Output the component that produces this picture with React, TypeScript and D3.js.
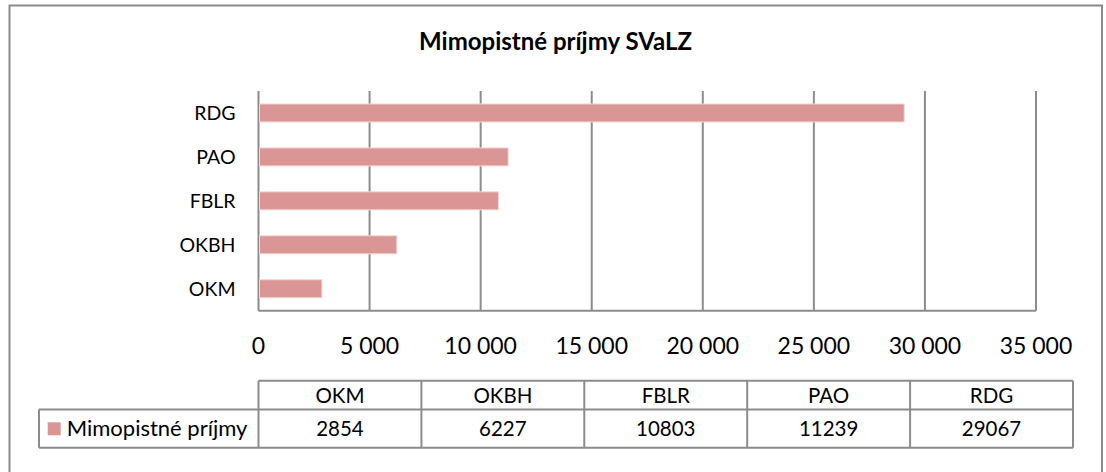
import React from "react";
import * as d3 from "d3";

const title = "Mimopistné príjmy SVaLZ";
const seriesName = "Mimopistné príjmy";
const categories = ["OKM", "OKBH", "FBLR", "PAO", "RDG"];
const values = [2854, 6227, 10803, 11239, 29067];
const ticks = [0, 5000, 10000, 15000, 20000, 25000, 30000, 35000];

const W = 1106;
const H = 472;
const FONT = "Lato, 'Open Sans', sans-serif";
const GRID = "#8c8c8c";
const BAR = "#d99694";

const locale = d3.formatLocale({ decimal: ",", thousands: " ", grouping: [3], currency: ["", ""] });
const fmt = locale.format(",d");

export default function App() {
  const x = d3.scaleLinear().domain([0, 35000]).range([258.5, 1036]);
  const y = d3
    .scaleBand<string>()
    .domain([...categories].reverse())
    .range([91, 310.7])
    .paddingInner(0.59)
    .paddingOuter(0.295);
  const col = d3.scaleBand<string>().domain(categories).range([258.5, 1073]);
  const tTop = 380.7;
  const tMid = 409.5;
  const tBot = 447.7;
  const legLeft = 39;

  return (
    <svg
      width={W}
      height={H}
      style={{ position: "absolute", left: 0, top: 0, background: "#fff" }}
      fontFamily={FONT}
    >
      <rect x={9.5} y={5.5} width={1092.5} height={490} fill="#fff" stroke="#8c8c8c" strokeWidth={2} />
      <text x={555.5} y={50} textAnchor="middle" fontSize={24} fontWeight="bold" fill="#000">
        {title}
      </text>
      {/* gridlines */}
      {ticks.map((t) => (
        <line key={t} x1={x(t)} x2={x(t)} y1={91} y2={310.7} stroke={GRID} strokeWidth={2} />
      ))}
      <line x1={x(0)} x2={x(35000)} y1={310.7} y2={310.7} stroke={GRID} strokeWidth={2} />
      {/* bars */}
      {categories.map((c, i) => (
        <rect
          key={c}
          x={x(0) + 1}
          y={y(c)!}
          width={x(values[i]) - x(0) - 1}
          height={y.bandwidth()}
          fill={BAR}
          stroke="#f0d8d7"
          strokeWidth={1}
        />
      ))}
      {/* category labels */}
      {categories.map((c) => (
        <text
          key={c}
          x={235.5}
          y={y(c)! + y.bandwidth() / 2}
          dy="0.36em"
          textAnchor="end"
          fontSize={19.5}
          fill="#000"
        >
          {c}
        </text>
      ))}
      {/* tick labels */}
      {ticks.map((t) => (
        <text key={t} x={x(t)} y={354} textAnchor="middle" fontSize={23} fill="#000">
          {fmt(t)}
        </text>
      ))}
      {/* data table */}
      <g stroke={GRID} strokeWidth={2} fill="none">
        <line x1={x(0)} x2={1073} y1={tTop} y2={tTop} />
        <line x1={legLeft} x2={1073} y1={tMid} y2={tMid} />
        <line x1={legLeft} x2={1073} y1={tBot} y2={tBot} />
        <line x1={legLeft} x2={legLeft} y1={tMid} y2={tBot} />
        <line x1={x(0)} x2={x(0)} y1={tTop} y2={tBot} />
        {categories.map((c) => (
          <line key={c} x1={col(c)! + col.bandwidth()} x2={col(c)! + col.bandwidth()} y1={tTop} y2={tBot} />
        ))}
      </g>
      {categories.map((c, i) => (
        <g key={c}>
          <text x={col(c)! + col.bandwidth() / 2} y={402.7} textAnchor="middle" fontSize={20.5} fill="#000">
            {c}
          </text>
          <text x={col(c)! + col.bandwidth() / 2} y={435.5} textAnchor="middle" fontSize={20.5} fill="#000">
            {values[i]}
          </text>
        </g>
      ))}
      <rect x={47.7} y={422.3} width={13} height={13} fill={BAR} />
      <text x={66.7} y={435.5} fontSize={22} fill="#000">
        {seriesName}
      </text>
    </svg>
  );
}
